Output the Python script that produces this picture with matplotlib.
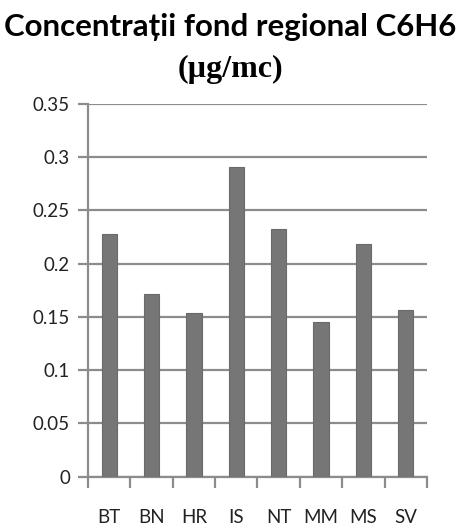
import matplotlib
matplotlib.use("Agg")
import matplotlib.pyplot as plt
import numpy as np

stations = ["BT", "BN", "HR", "IS", "NT", "MM", "MS", "SV"]
c6h6 = [0.228, 0.171, 0.154, 0.291, 0.232, 0.145, 0.218, 0.156]
yticks = [0, 0.05, 0.1, 0.15, 0.2, 0.25, 0.3, 0.35]
ytick_labels = ["0", "0.05", "0.1", "0.15", "0.2", "0.25", "0.3", "0.35"]

GRID = "#8c8c8c"
BAR = "#767676"

fig = plt.figure(figsize=(4.61, 5.29), dpi=100)
ax = fig.add_axes([0.191, 0.099, 0.735, 0.705])

x = np.arange(len(stations))
ax.bar(x, c6h6, width=0.36, color=BAR, edgecolor="#6a6a6a", linewidth=0.8, zorder=3)

ax.set_xlim(-0.5, len(stations) - 0.5)
ax.set_ylim(0, 0.35)
ax.set_yticks(yticks)
ax.set_yticklabels(ytick_labels, fontfamily="Lato", fontsize=13.5, color="#222222")
ax.yaxis.grid(True, color=GRID, linewidth=1.6, zorder=0)
ax.tick_params(axis="y", length=7, width=1.6, color=GRID, pad=6)

# category labels sit between boundary ticks
ax.set_xticks(x)
ax.set_xticklabels(stations, fontfamily="Lato", fontsize=13.5, color="#222222")
ax.tick_params(axis="x", which="major", length=0, pad=23)
ax.set_xticks(np.arange(-0.5, len(stations)), minor=True)
ax.tick_params(axis="x", which="minor", length=8, width=1.6, color=GRID)

for side in ["top", "right"]:
    ax.spines[side].set_visible(False)
for side in ["left", "bottom"]:
    ax.spines[side].set_color(GRID)
    ax.spines[side].set_linewidth(1.6)

fig.text(0.5, 0.949, "Concentrații fond regional C6H6", ha="center", va="center",
         fontfamily="Lato", fontweight="bold", fontsize=22.5)
fig.text(0.5, 0.868, "(µg/mc)", ha="center", va="center",
         fontfamily="Liberation Serif", fontweight="bold", fontsize=23)

fig.savefig("out.png", dpi=100)
